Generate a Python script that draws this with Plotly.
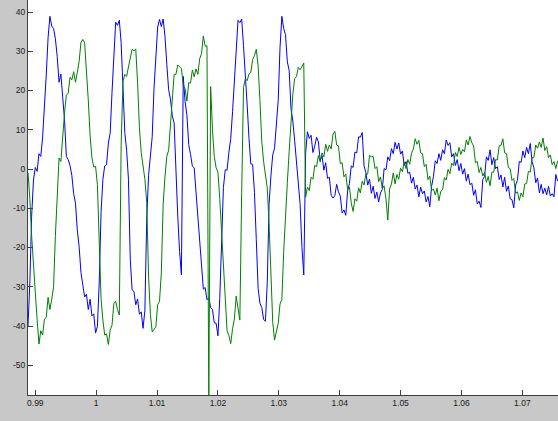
import plotly.graph_objects as go

# Sampling of the recorded signals (seconds)
T_START = 0.9888
T_STEP = 0.0003

BLUE_VALUES = [
    -40, -29, -12, -2.8, 0.4, -0.6, 3.9, 3.2, 8.1, 15.5,
    24, 33.5, 38.9, 36.4, 35.8, 33.2, 28.6, 22.1, 24.2, 18.3,
    12.6, 3.2, 2.4, 0.9, -1.6, -6.3, -8.7, -15.6, -19.8, -26.4,
    -29.8, -32.6, -31.9, -35.8, -33.2, -37.4, -36.9, -41.8, -40.1, -29,
    -11, -2.7, 0.8, 1.1, 6.6, 9.2, 19.5, 28.4, 37.4, 36.6,
    37.9, 32.2, 21.6, 9.3, 4.8, -2.6, -23, -30.8, -31.2, -34.6,
    -33.1, -37, -36.4, -40.6, -36, -13, -1.7, 3.8, 8.2, 20.6,
    29.4, 36.2, 38.1, 36.3, 38.2, 33.8, 26.7, 20.2, 17.8, 13.6,
    11.7, -1, -12, -21, -27, 23.6, 17.2, 13.8, 6.2, 3.7,
    0.7, 0.3, -5.8, -11, -16.2, -23.4, -30.6, -30.2, -33.3, -32.8,
    -35.3, -35.8, -39.2, -39.3, -42.5, -33, -20, -4.7, -0.2, -0.3,
    4.3, 7.7, 14.6, 23, 32, 37.9, 37.3, 38.2, 31.4, 24.6,
    16.3, 7.8, 1.3, 1.2, -6, -18, -30.4, -34.2, -35.3, -38.3,
    -38.8, -29, -9, -1.8, 3.6, 5.3, 10.8, 17.5, 31, 38.9,
    35.8, 34.2, 27.3, 25.1, 15.4, 12.2, 7.3, 2.2, -2.2, -9,
    -20, -27,
    4, 9.5, 7.8, 8.6, 4.2, 5.8, 8.1, 6.9, 2.2, 3.4,
    -0.3, 1.6, -2.4, -2.1, -6.7, -7.4, -6.8, -3.9, -5.8, -6.9,
    -11.2, -10.4, -11.8, -5.6, -3.7, 0.8, 0.4, 4.3, 4.1, 8.2,
    8.1, 9.3, 0.8, -0.9, -4.1, -2.6, -6.2, -4.4, -7.5, -5.9,
    -8.4, -6.1, -5.2, 0.1, -0.2, 3.1, 2.1, 5.2, 3.9, 6.8,
    5.1, 6.6, 3.8, 4.6, 0.9, 1.9, -1.1, -0.8, -3.6, -2.1,
    -5.1, -4.1, -7.1, -4.6, -6.3, -5.6, -8.4, -7, -9.6, -4.4,
    -1.9, 2.1, 1.4, 3.9, 2.2, 4.9, 3.9, 7.4, 6, 6.7,
    3.1, 3.9, 0.9, 2.4, -0.4, 1.4, -1.3, 0.1, -3.1, -1.3,
    -4, -3.6, -6.7, -5.3, -8.9, -8.2, -9.8, -2.7, -1.9, 3.1,
    2.2, 4.9, 1.1, 2.9, 0.1, 0.6, -2.7, -1.5, -4.6, -2.1,
    -5.7, -4.3, -7.6, -7.8, -9.9, -4.1, -2.9, 1.9, 1.7, 4.6,
    2.9, 5.5, 3.9, 6.5, 1.9, 0.3, -3.5, -2.3, -6.1, -3.9,
    -6.3, -4.9, -6.6, -4.4, -6.9, -6.3, -7.1, -1.4, -3.1,
]

GREEN_VALUES = [
    -1, -7.5, -17, -26, -31.5, -38.3, -44.6, -41.2, -42.3, -38.2,
    -37.8, -32.7, -35.8, -33.2, -30, -17, -5, 2.8, 1.9, 8.7,
    14.3, 18.8, 19.3, 23.4, 22.7, 24.8, 22.1, 24.6, 27.4, 32.3,
    33, 32.2, 25.8, 17.6, 8.5, 2.9, 0.5, 0.7, -4, -17,
    -33, -38.5, -42.3, -42, -44.7, -41, -39.8, -34.3, -33.7, -35.8,
    -37.2, 6, 22.3, 24.1, 23.6, 26, 28, 30.5, 30.1, 30.6,
    22, 10.5, 4.2, 0.9, -2.6, -8.5, -27, -37, -41.5, -40.9,
    -40.2, -34.6, -33.7, -26.5, -9, -2, 3.2, 4.8, 11.5, 19.5,
    24.1, 24.1, 26.5, 26.1, 25.6, 21.3, 20.5, 17.3, 22, 21.9,
    25.2, 23.5, 25.5, 24.1, 28.1, 29.4, 33.9, 31.3, 31.4, -60,
    21, 10, 3.2, 0.3, -0.8, -7.5, -16, -26, -34.5, -41.2,
    -42.4, -44.5, -40.7, -38.2, -32.4, -35.2, -38.5, -6, 20.8, 23,
    22.5, 24.2, 24.6, 27.9, 28.9, 30.5, 26.3, 17.4, 7, 1.9,
    -1.8, -4.8, -14, -28, -39, -43.6, -41.7, -39.3, -34.4, -33.2,
    -21, -10.5, -3.5, 4.5, 12.5, 19, 23, 23.6, 25.9, 25.3,
    26.1, 27,
    -7.2, -4.6, -5.5, -2.1, -2.6, 0.9, 0.6, 3.4, 1.8, 4.1,
    3.1, 6.3, 4.5, 6.1, 5.1, 8.9, 9.6, 6.1, 5.9, 1.4,
    1.6, -2, -1.3, -5.2, -4.6, -8.7, -10.8, -7.6, -8.2, -4.8,
    -6.1, -3.1, -4.1, -1.2, -1.3, 3.5, 3.1, 3.2, 0.1, 0.6,
    -3.2, -2, -5, -4.3, -7.6, -13, -5.1, -3.8, -1, -3.8,
    -1.4, -2.6, 0.2, -0.7, 1.8, 0.1, 2.4, 1.2, 4, 5.1,
    7.7, 6.3, 7.3, 4.1, 3.9, 0.6, 1.2, -2.7, -1.8, -5.5,
    -5.1, -6.6, -4.9, -8.1, -5.7, -5.3, -2.2, -2.8, -0.1, -1.2,
    1.5, 0.9, 4.2, 3.2, 5.5, 3.7, 5, 4.4, 7.4, 6.1,
    8.3, 6.7, 5.9, 1.6, 1.9, -0.9, 0.4, -1.8, -0.9, -3.4,
    -1.9, -4.3, -0.8, -0.8, 2.4, 2.3, 5.9, 6, 7.7, 4.1,
    3.9, 0.4, 0.1, -2.9, -2.4, -6.2, -5.8, -8, -6.1, -7.1,
    -3.8, -3.7, -0.6, -0.8, 2.9, 2.9, 6.1, 5.3, 6.9, 5.5,
    7.9, 4.7, 5.7, 2.9, 3.6, 1.1, 1.9, 0.1, 2.1,
]

X_TICK_VALS = [0.99, 1.00, 1.01, 1.02, 1.03, 1.04, 1.05, 1.06, 1.07]
X_TICK_TEXT = ["0.99", "1", "1.01", "1.02", "1.03", "1.04", "1.05", "1.06", "1.07"]
Y_TICK_VALS = [40, 30, 20, 10, 0, -10, -20, -30, -40, -50]
Y_TICK_TEXT = ["40", "30", "20", "10", "0", "-10", "-20", "-30", "-40", "-50"]

X_RANGE = [0.98880, 1.07586]
Y_RANGE = [-57.58, 43.06]


def times(n):
    return [round(T_START + T_STEP * i, 6) for i in range(n)]


fig = go.Figure()
fig.add_trace(go.Scatter(x=times(len(BLUE_VALUES)), y=BLUE_VALUES, mode="lines",
                         line=dict(color="#0000ff", width=1), showlegend=False,
                         hoverinfo="skip"))
fig.add_trace(go.Scatter(x=times(len(GREEN_VALUES)), y=GREEN_VALUES, mode="lines",
                         line=dict(color="#008000", width=1), showlegend=False,
                         hoverinfo="skip"))

axis_font = dict(family="Liberation Sans, Arial, sans-serif", size=8.5, color="#202020")
fig.update_layout(
    width=558, height=421,
    margin=dict(l=28, r=0, t=0, b=26, pad=0),
    paper_bgcolor="#c8c8c8",
    plot_bgcolor="#ffffff",
    xaxis=dict(range=X_RANGE, tickmode="array", tickvals=X_TICK_VALS, ticktext=X_TICK_TEXT,
               ticks="inside", ticklen=5, tickcolor="#404040", showline=True,
               linecolor="#404040", linewidth=1, showgrid=False, zeroline=False,
               tickfont=axis_font, fixedrange=True),
    yaxis=dict(range=Y_RANGE, tickmode="array", tickvals=Y_TICK_VALS, ticktext=Y_TICK_TEXT,
               ticks="inside", ticklen=5, tickcolor="#404040", showline=True,
               linecolor="#404040", linewidth=1, showgrid=False, zeroline=False,
               tickfont=axis_font, fixedrange=True),
)

fig.write_html(
    "out.html",
    config={"displayModeBar": False, "staticPlot": True},
    post_script="document.body.style.margin='0';document.body.style.background='#c8c8c8';",
)
